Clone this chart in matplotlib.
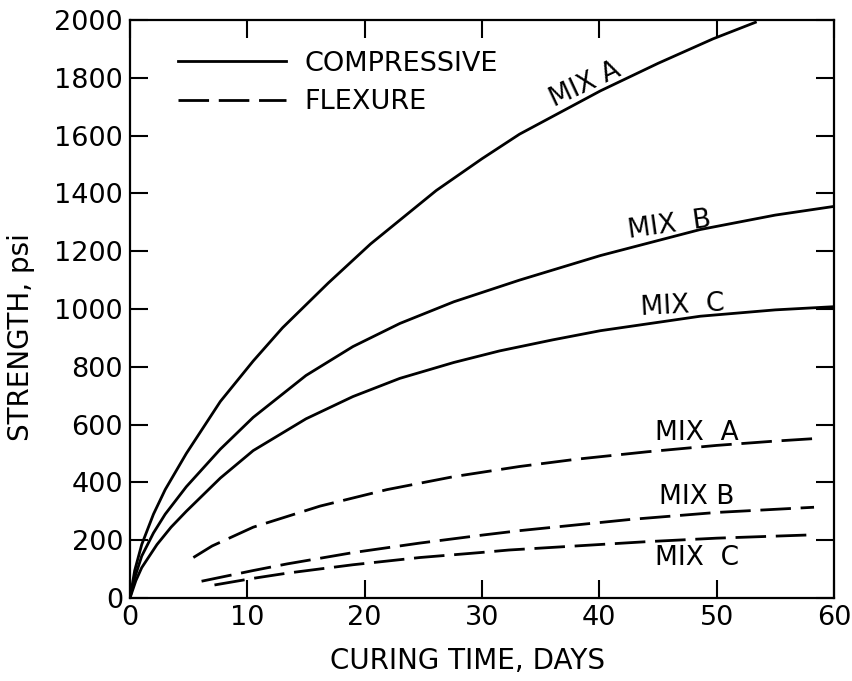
import numpy as np
import matplotlib
matplotlib.use("Agg")
import matplotlib.pyplot as plt

# compressive strength curves (days, psi)
comp_a_days = [0, 0.4, 1, 2, 3, 4.8, 7.7, 10.5, 13, 16.9, 20.5, 26.1, 30, 33.2, 40.1, 45, 49.7, 53.3]
comp_a_psi = [0, 95, 185, 290, 375, 500, 680, 820, 935, 1090, 1225, 1410, 1520, 1605, 1755, 1850, 1935, 1992]

comp_b_days = [0, 0.4, 1, 2, 3, 4.8, 7.7, 10.5, 15, 19, 23, 27.6, 33.2, 40.1, 48.6, 55, 60]
comp_b_psi = [0, 70, 145, 225, 290, 385, 515, 625, 770, 870, 950, 1025, 1100, 1185, 1275, 1325, 1355]

comp_c_days = [0, 0.5, 1, 2.3, 3.5, 4.8, 7.7, 10.5, 15, 19, 23, 27.6, 31.5, 36, 40.1, 48.6, 55, 60]
comp_c_psi = [0, 60, 105, 185, 245, 300, 415, 510, 620, 697, 760, 815, 855, 893, 925, 975, 997, 1008]

# flexural strength curves
flex_a_days = [5.4, 7, 10.5, 16.2, 21.9, 27.6, 33.2, 38, 44.1, 50, 55, 58.9]
flex_a_psi = [140, 180, 245, 318, 375, 420, 455, 480, 506, 528, 543, 553]

flex_b_days = [6.1, 10.5, 13.4, 19, 24.7, 30.1, 33.2, 42.7, 50, 58.3]
flex_b_psi = [58, 95, 118, 157, 190, 218, 233, 272, 296, 314]

flex_c_days = [7.2, 10.5, 13.4, 19, 24.7, 29.8, 32.3, 44.1, 50, 57.8]
flex_c_psi = [45, 68, 86, 115, 140, 157, 166, 195, 207, 218]

x_ticks = [0, 10, 20, 30, 40, 50, 60]
y_ticks = [0, 200, 400, 600, 800, 1000, 1200, 1400, 1600, 1800, 2000]

plt.rcParams["font.family"] = "DejaVu Sans"

fig = plt.figure(figsize=(8.53, 6.81), dpi=100)
ax = fig.add_axes([0.1524, 0.1219, 0.8253, 0.8487])

lw = 2.0
dash = (0, (11, 3.5))

ax.plot(comp_a_days, comp_a_psi, color="black", lw=lw, label="COMPRESSIVE")
ax.plot(comp_b_days, comp_b_psi, color="black", lw=lw)
ax.plot(comp_c_days, comp_c_psi, color="black", lw=lw)

ax.plot(flex_a_days, flex_a_psi, color="black", lw=lw, linestyle=dash, label="FLEXURE")
ax.plot(flex_b_days, flex_b_psi, color="black", lw=lw, linestyle=dash)
ax.plot(flex_c_days, flex_c_psi, color="black", lw=lw, linestyle=dash)

ax.set_xlim(0, 60)
ax.set_ylim(0, 2000)
ax.set_xticks(x_ticks)
ax.set_yticks(y_ticks)

for side in ax.spines.values():
    side.set_linewidth(1.6)

ax.tick_params(direction="in", length=13, width=1.5, labelsize=19.5, pad=5,
               top=True, right=True)

ax.text(0.48, -0.109, "CURING TIME, DAYS", transform=ax.transAxes,
        ha="center", va="center", fontsize=20)
ax.text(-0.155, 0.452, "STRENGTH, psi", transform=ax.transAxes,
        ha="center", va="center", rotation=90, fontsize=20)

# curve labels
lbl = dict(ha="center", va="center", fontsize=19, rotation_mode="anchor")
ax.text(38.8, 1775, "MIX A", rotation=25, **lbl)
ax.text(46.0, 1291, "MIX  B", rotation=8, **lbl)
ax.text(47.1, 1010, "MIX  C", rotation=3, **lbl)
ax.text(48.3, 571, "MIX  A", **lbl)
ax.text(48.3, 349, "MIX B", **lbl)
ax.text(48.3, 138, "MIX  C", **lbl)

ax.legend(loc="upper left", bbox_to_anchor=(0.068, 0.947), frameon=False,
          fontsize=19.5, handlelength=4.0, handletextpad=0.68,
          labelspacing=0.47, borderpad=0, borderaxespad=0)

fig.savefig("out.png", dpi=100)
